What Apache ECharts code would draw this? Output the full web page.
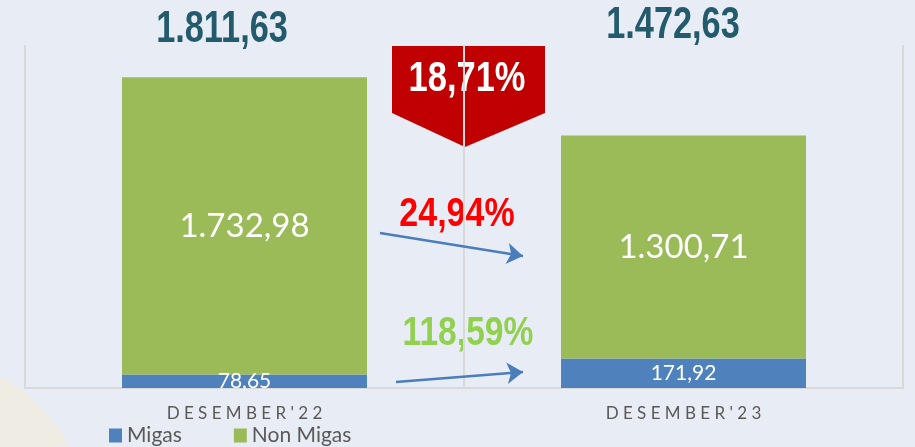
<!DOCTYPE html>
<html>
<head>
<meta charset="utf-8">
<script src="https://cdn.jsdelivr.net/npm/echarts@6/dist/echarts.min.js"></script>
<style>
  html, body { margin: 0; padding: 0; background: #e8ecf4; }
  #chart { width: 915px; height: 447px; }
</style>
</head>
<body>
<div id="chart"></div>
<script>
// data
var categories = ["DESEMBER'22", "DESEMBER'23"]
var migas = [78.65, 171.92]
var nonMigas = [1732.98, 1300.71]
var seriesNames = ['Migas', 'Non Migas']

// angka format Indonesia: 1.811,63
function fmt(v) {
  var p = v.toFixed(2).split('.')
  return p[0].replace(/\B(?=(\d{3})+(?!\d))/g, '.') + ',' + p[1]
}
function pct(a, b) {
  return (Math.abs(a - b) / a * 100).toFixed(2).replace('.', ',') + '%'
}

var totals = migas.map(function (v, i) { return v + nonMigas[i] })
var changeTotal = pct(totals[0], totals[1])
var changeNonMigas = pct(nonMigas[0], nonMigas[1])
var changeMigas = pct(migas[0], migas[1])

// no narrow font installed, so squeeze Liberation Sans bold with scaleX
var bigFont = '"Liberation Sans", Arial, sans-serif'

function bigText(text, x, y, size, color, sx, extra) {
  var style = {
    text: text,
    font: 'bold ' + size + 'px ' + bigFont,
    fill: color,
    align: 'center',
    verticalAlign: 'middle'
  }
  for (var k in extra || {}) style[k] = extra[k]
  return { type: 'text', x: x, y: y, scaleX: sx, style: style }
}

var chart = echarts.init(document.getElementById('chart'))
chart.setOption({
  backgroundColor: '#e8ecf4',
  animation: false,
  grid: { left: 25, right: 12, top: 45, bottom: 59 },
  legend: {
    data: seriesNames,
    left: 104,
    top: 420,
    icon: 'rect',
    itemWidth: 13,
    itemHeight: 14,
    itemGap: 52,
    selectedMode: false,
    textStyle: { color: '#595959', fontSize: 21, fontFamily: 'Lato' }
  },
  xAxis: {
    type: 'category',
    data: categories,
    axisLine: { lineStyle: { color: '#d9d9d9', width: 2 } },
    axisTick: { show: false },
    splitLine: { show: true, lineStyle: { color: '#d9d9d9', width: 2 } },
    axisLabel: {
      color: '#595959',
      fontSize: 17,
      fontFamily: 'Lato',
      margin: 17,
      formatter: function (v) { return v.split('').join(' ') }
    }
  },
  yAxis: {
    type: 'value',
    min: 0,
    max: 2000,
    show: false,
    splitLine: { show: false }
  },
  series: [
    {
      name: 'Migas',
      type: 'bar',
      stack: 'total',
      barWidth: 245,
      data: migas,
      itemStyle: { color: '#4f81bd' },
      label: {
        show: true,
        position: 'inside',
        color: '#fff',
        fontSize: 21,
        fontFamily: 'Lato',
        formatter: function (p) { return fmt(p.value) }
      },
      markLine: {
        silent: true,
        symbol: ['none', 'arrow'],
        symbolSize: 16,
        label: { show: false },
        lineStyle: { color: '#4a7ebb', width: 2.5, type: 'solid' },
        data: [
          [{ x: 380, y: 233 }, { x: 523, y: 256 }],
          [{ x: 396, y: 382 }, { x: 523, y: 372 }]
        ]
      }
    },
    {
      name: 'Non Migas',
      type: 'bar',
      stack: 'total',
      barWidth: 245,
      data: nonMigas,
      itemStyle: { color: '#9bbb59' },
      label: {
        show: true,
        position: 'inside',
        color: '#fff',
        fontSize: 33,
        fontFamily: 'Lato',
        formatter: function (p) { return fmt(p.value) }
      }
    }
  ],
  graphic: [
    {
      type: 'circle',
      z: -10,
      shape: { cx: -70, cy: 515, r: 155 },
      style: { fill: '#eeece3' }
    },
    {
      type: 'polygon',
      z: -5,
      shape: { points: [[392, 46], [545, 46], [545, 113], [465, 147], [392, 113]] },
      style: { fill: '#c00000' }
    },
    bigText(changeTotal, 467, 79, 42, '#fff', 0.82, {
      shadowColor: 'rgba(0,0,0,0.55)', shadowOffsetX: 2, shadowOffsetY: 2, shadowBlur: 2
    }),
    bigText(fmt(totals[0]), 222, 30, 44, '#235b6c', 0.78),
    bigText(fmt(totals[1]), 673, 26, 44, '#235b6c', 0.78),
    bigText(changeNonMigas, 457, 215, 40, '#ff0000', 0.85),
    bigText(changeMigas, 468, 334, 40, '#92d050', 0.84)
  ]
})
</script>
</body>
</html>
